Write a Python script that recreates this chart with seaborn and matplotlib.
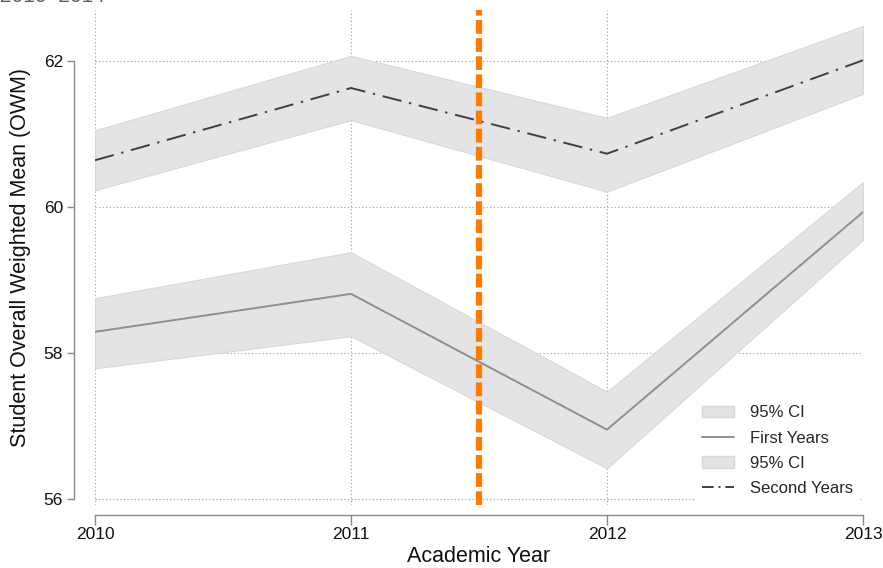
import matplotlib
matplotlib.use("Agg")
import matplotlib.pyplot as plt
from matplotlib.patches import Patch
from matplotlib.lines import Line2D
import numpy as np
import pandas as pd
import seaborn as sns

# Academic years and student overall weighted mean (OWM) by cohort
years = [2010, 2011, 2012, 2013]

first_mean = [58.29, 58.81, 56.95, 59.93]
first_lo = [57.79, 58.23, 56.42, 59.55]
first_hi = [58.75, 59.38, 57.47, 60.34]

second_mean = [60.64, 61.63, 60.73, 62.01]
second_lo = [60.23, 61.19, 60.21, 61.55]
second_hi = [61.05, 62.07, 61.22, 62.48]

policy_year = 2011.5
y_ticks = [56, 58, 60, 62]
x_ticks = [2010, 2011, 2012, 2013]

sns.set_style("ticks")
plt.rcParams["font.family"] = ["Liberation Sans", "DejaVu Sans"]

df = pd.DataFrame({
    "year": years * 2,
    "owm": first_mean + second_mean,
    "cohort": ["First Years"] * 4 + ["Second Years"] * 4,
})

fig = plt.figure(figsize=(8.83, 5.68), dpi=100)
ax = fig.add_axes([95 / 883, 1 - 505 / 568, 768 / 883, 495 / 568])

grid_kw = dict(color="#9a9a9a", lw=0.8, ls=(0, (1, 2.2)), zorder=0)
for yv in y_ticks:
    ax.axhline(yv, **grid_kw)
for xv in x_ticks:
    ax.axvline(xv, **grid_kw)

band_kw = dict(facecolor="#e4e4e4", edgecolor="#d8d8d8", lw=0.8, zorder=1)
ax.fill_between(years, first_lo, first_hi, **band_kw)
ax.fill_between(years, second_lo, second_hi, **band_kw)

sns.lineplot(data=df[df.cohort == "First Years"], x="year", y="owm",
             color="#8f8f8f", lw=1.4, ax=ax, legend=False, zorder=3)
sns.lineplot(data=df[df.cohort == "Second Years"], x="year", y="owm",
             color="#3f3f3f", lw=1.4, ax=ax, legend=False, zorder=3,
             dashes=False)
ax.lines[-1].set_dashes([10, 4, 1.2, 4])

ax.axvline(policy_year, color="#ff7a00", lw=4.5, zorder=4,
           dashes=(2.2, 0.7), solid_capstyle="butt", dash_capstyle="butt")

ax.set_xlim(2010, 2013)
ax.set_ylim(56 - 6 / 73, 62 + 51 / 73)
ax.set_xticks(x_ticks)
ax.set_yticks(y_ticks)
ax.set_xticklabels([str(v) for v in x_ticks])
ax.set_yticklabels([str(v) for v in y_ticks])

for side in ["top", "right"]:
    ax.spines[side].set_visible(False)
ax.spines["left"].set_position(("outward", 15))
ax.spines["bottom"].set_position(("outward", 7))
ax.spines["left"].set_bounds(56, 62)
ax.spines["bottom"].set_bounds(2010, 2013)
for side in ["left", "bottom"]:
    ax.spines[side].set_color("#8a8a8a")
    ax.spines[side].set_linewidth(1.0)
ax.tick_params(axis="both", direction="out", length=5, width=1.0,
               color="#8a8a8a", labelsize=12.5, pad=3, labelcolor="#111111",
               bottom=True, left=True)
ax.tick_params(axis="x", length=7, pad=2)

ax.set_xlabel("Academic Year", fontsize=15.5, labelpad=3, color="#111111")
ax.set_ylabel("Student Overall Weighted Mean (OWM)", fontsize=15.5,
              labelpad=9, color="#111111")

handles = [
    Patch(facecolor="#e4e4e4", edgecolor="#d8d8d8"),
    Line2D([], [], color="#8f8f8f", lw=1.4),
    Patch(facecolor="#e4e4e4", edgecolor="#d8d8d8"),
    Line2D([], [], color="#3f3f3f", lw=1.4, dashes=[6, 2.5, 1, 2.5]),
]
labels = ["95% CI", "First Years", "95% CI", "Second Years"]
leg = ax.legend(handles, labels, loc="lower right",
                bbox_to_anchor=(0.995, 0.006), borderaxespad=0,
                frameon=True, fontsize=12,
                handlelength=1.9, handletextpad=1.0, labelspacing=0.62,
                borderpad=0.35, framealpha=1.0)
leg.get_frame().set_edgecolor("white")
leg.get_frame().set_facecolor("white")
leg.set_zorder(5)

fig.text(0.0, 1 - 1.5 / 568, "2010\u20132014", fontsize=15, color="#4e5d6c",
         ha="left", va="baseline")

fig.savefig("out.png", dpi=100)
